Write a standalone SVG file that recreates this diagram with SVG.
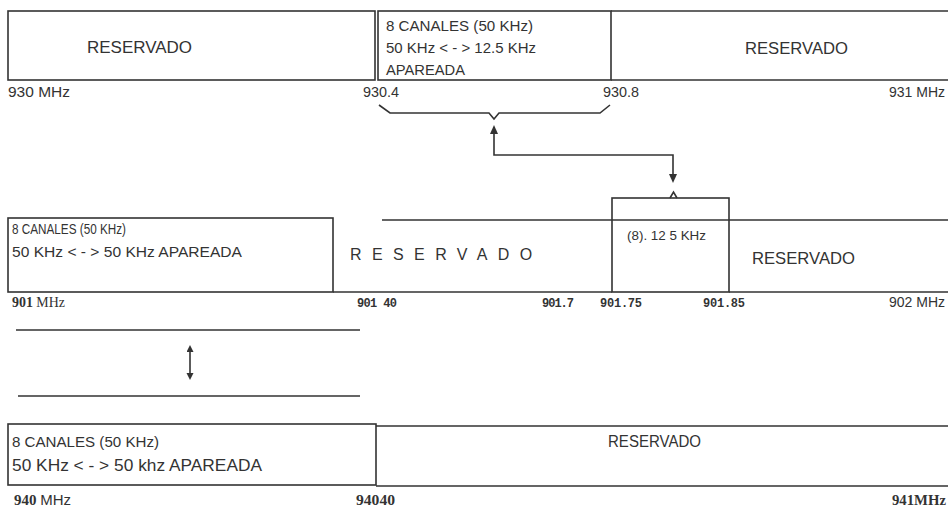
<svg xmlns="http://www.w3.org/2000/svg" width="948" height="508" viewBox="0 0 948 508">
<style>
.ln{stroke:#333;stroke-width:1.6;fill:none}
.bx{stroke:#333;stroke-width:1.6;fill:#fff}
.t{font-family:"Liberation Sans",Arial,sans-serif;fill:#333}
.m{font-family:"Liberation Mono","Courier New",monospace;font-weight:bold;fill:#333;font-size:12px}
.s{font-family:"Liberation Serif","Times New Roman",serif;font-weight:bold;fill:#333;font-size:14px}
</style>
<defs>
<marker id="ah" markerWidth="10" markerHeight="10" refX="7" refY="4" orient="auto-start-reverse" markerUnits="userSpaceOnUse">
<path d="M0,0 L9,4 L0,8 Z" fill="#333"/>
</marker>
<marker id="ah2" markerWidth="9" markerHeight="9" refX="5" refY="3.5" orient="auto-start-reverse" markerUnits="userSpaceOnUse">
<path d="M0,0 L7,3.5 L0,7 Z" fill="#333"/>
</marker>
</defs>
<rect width="948" height="508" fill="#fff"/>

<!-- Row 1: 930-931 MHz -->
<g id="r1-reservado-left">
<rect class="bx" x="8" y="11" width="367" height="69"/>
<text class="t" x="87" y="53" font-size="16" textLength="105" lengthAdjust="spacingAndGlyphs">RESERVADO</text>
</g>
<g id="r1-canales">
<rect class="bx" x="378" y="11" width="233" height="69"/>
<text class="t" x="386" y="31" font-size="15" textLength="147" lengthAdjust="spacingAndGlyphs">8 CANALES (50 KHz)</text>
<text class="t" x="386" y="53" font-size="15" textLength="150" lengthAdjust="spacingAndGlyphs">50 KHz &lt; - &gt; 12.5 KHz</text>
<text class="t" x="386" y="75" font-size="15" textLength="79" lengthAdjust="spacingAndGlyphs">APAREADA</text>
</g>
<g id="r1-reservado-right">
<path class="ln" d="M611,11 H948 M611,80 H948"/>
<text class="t" x="745" y="54" font-size="16" textLength="103" lengthAdjust="spacingAndGlyphs">RESERVADO</text>
</g>
<g id="r1-labels">
<text class="t" x="8" y="97" font-size="14" textLength="62" lengthAdjust="spacingAndGlyphs">930 MHz</text>
<text class="t" x="363" y="97" font-size="14" textLength="36" lengthAdjust="spacingAndGlyphs">930.4</text>
<text class="t" x="603" y="97" font-size="14" textLength="36" lengthAdjust="spacingAndGlyphs">930.8</text>
<text class="t" x="889" y="97" font-size="14">931 MHz</text>
</g>

<!-- Row 2: 901-902 MHz -->
<g id="r2-canales">
<rect class="bx" x="8" y="218" width="325" height="74"/>
<text class="t" x="12" y="234" font-size="14" textLength="114" lengthAdjust="spacingAndGlyphs">8 CANALES (50 KHz)</text>
<text class="t" x="12" y="257" font-size="15" textLength="230" lengthAdjust="spacingAndGlyphs">50 KHz &lt; - &gt; 50 KHz APAREADA</text>
</g>
<g id="r2-reservado-mid">
<path class="ln" d="M382,220 H612 M333,292 H612"/>
<text class="t" x="350" y="260" font-size="16" letter-spacing="10.4">RESERVADO</text>
</g>
<g id="r2-125">
<rect class="bx" x="612" y="198" width="117" height="94" fill="none"/>
<path class="ln" d="M612,220 H729"/>
<text class="t" x="627" y="240" font-size="13" textLength="79" lengthAdjust="spacingAndGlyphs">(8). 12 5 KHz</text>
<path class="ln" d="M670,198 L673.5,192 L677,198" stroke-width="1.2"/>
</g>
<g id="r2-reservado-right">
<path class="ln" d="M729,220 H948 M729,292 H948"/>
<text class="t" x="752" y="264" font-size="17" textLength="103" lengthAdjust="spacingAndGlyphs">RESERVADO</text>
</g>
<g id="r2-labels">
<text class="s" x="12" y="307" textLength="53" lengthAdjust="spacingAndGlyphs">901 <tspan font-weight="normal">MHz</tspan></text>
<text class="m" x="357" y="307" textLength="40">901 40</text>
<text class="m" x="542" y="307" textLength="32">901.7</text>
<text class="m" x="600" y="307" textLength="42">901.75</text>
<text class="m" x="703" y="307" textLength="42">901.85</text>
<text class="t" x="889" y="307" font-size="14">902 MHz</text>
</g>

<!-- Pairing indicator -->
<g id="pair-lines">
<path class="ln" d="M16,330 H360 M18,396 H360"/>
</g>

<!-- Row 3: 940-941 MHz -->
<g id="r3-canales">
<rect class="bx" x="8" y="424" width="368" height="61"/>
<text class="t" x="12" y="447" font-size="15" textLength="147" lengthAdjust="spacingAndGlyphs">8 CANALES (50 KHz)</text>
<text class="t" x="12" y="471" font-size="17" textLength="250" lengthAdjust="spacingAndGlyphs">50 KHz &lt; - &gt; 50 khz APAREADA</text>
</g>
<g id="r3-reservado">
<path class="ln" d="M376,426 H948 M376,486 H948"/>
<text class="t" x="608" y="447" font-size="16" textLength="93" lengthAdjust="spacingAndGlyphs">RESERVADO</text>
</g>
<g id="r3-labels">
<text class="s" x="14" y="505" textLength="57" lengthAdjust="spacingAndGlyphs">940 <tspan font-weight="normal" font-family="Liberation Sans, sans-serif">MHz</tspan></text>
<text class="s" x="356" y="505" textLength="39" lengthAdjust="spacingAndGlyphs">94040</text>
<text class="s" x="892" y="505" textLength="54" lengthAdjust="spacingAndGlyphs">941MHz</text>
</g>

<!-- Connectors -->
<g id="connectors">
<path class="ln" d="M379,105 L390,113 H489 L494,119 L499,113 H600 L610,105"/>
<path class="ln" d="M494,127 V155 H673 V181" marker-start="url(#ah)" marker-end="url(#ah)" stroke-width="2.2"/>
<path class="ln" d="M190,347 V378" marker-start="url(#ah2)" marker-end="url(#ah2)" stroke-width="2.2"/>
</g>
</svg>
